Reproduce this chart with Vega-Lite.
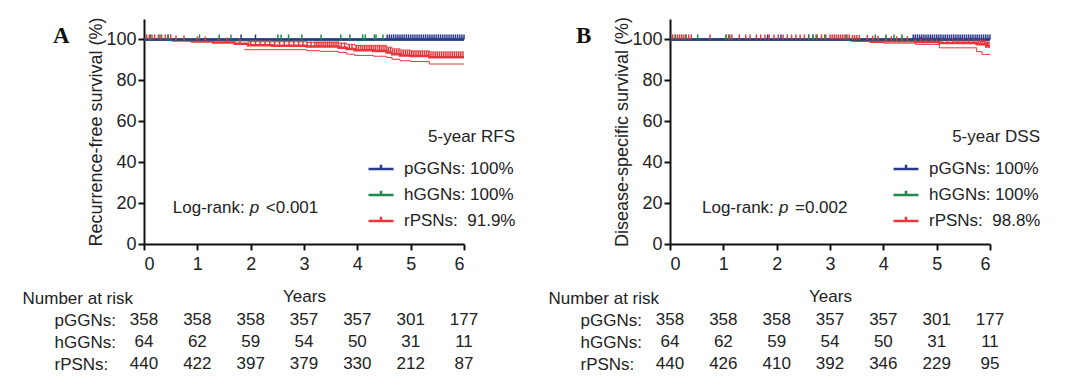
{
  "$schema": "https://vega.github.io/schema/vega-lite/v6.json",
  "background": "white",
  "padding": {"left": 22, "top": 16, "right": 5, "bottom": 5},
  "bounds": "flush",
  "spacing": 526,
  "config": {
    "font": "Liberation Sans",
    "view": {"stroke": null},
    "axis": {"grid": false, "domainColor": "#111", "domainWidth": 2, "tickColor": "#111", "tickWidth": 2, "tickSize": 6, "labelFont": "Liberation Sans", "labelFontSize": 18, "labelColor": "#222", "titleFont": "Liberation Sans", "titleFontWeight": "normal", "titleColor": "#222"},
    "text": {"font": "Liberation Sans", "color": "#222"}
  },
  "resolve": {"legend": {"color": "independent"}},
  "datasets": {
    "lineA": [
      {"g": "rPSNs", "t": 0, "s": 100}, {"g": "rPSNs", "t": 0.55, "s": 99.5}, {"g": "rPSNs", "t": 0.9, "s": 99.0}, {"g": "rPSNs", "t": 1.3, "s": 98.5}, {"g": "rPSNs", "t": 1.7, "s": 97.9}, {"g": "rPSNs", "t": 1.95, "s": 97.2}, {"g": "rPSNs", "t": 2.4, "s": 96.9}, {"g": "rPSNs", "t": 3.05, "s": 96.6}, {"g": "rPSNs", "t": 3.65, "s": 96.0}, {"g": "rPSNs", "t": 3.8, "s": 95.3}, {"g": "rPSNs", "t": 3.95, "s": 94.7}, {"g": "rPSNs", "t": 4.3, "s": 94.4}, {"g": "rPSNs", "t": 4.55, "s": 93.6}, {"g": "rPSNs", "t": 4.65, "s": 92.8}, {"g": "rPSNs", "t": 4.8, "s": 92.2}, {"g": "rPSNs", "t": 5.0, "s": 91.9}, {"g": "rPSNs", "t": 5.35, "s": 91.3}, {"g": "rPSNs", "t": 6.0, "s": 91.3},
      {"g": "hGGNs", "t": 0, "s": 100}, {"g": "hGGNs", "t": 6.0, "s": 100},
      {"g": "pGGNs", "t": 0, "s": 100}, {"g": "pGGNs", "t": 6.0, "s": 100}
    ],
    "ciA": [
      {"b": "hi", "t": 0, "s": 100}, {"b": "hi", "t": 0.6, "s": 99.9}, {"b": "hi", "t": 1.0, "s": 99.6}, {"b": "hi", "t": 1.5, "s": 99.3}, {"b": "hi", "t": 1.95, "s": 98.9}, {"b": "hi", "t": 3.05, "s": 98.6}, {"b": "hi", "t": 3.65, "s": 98.2}, {"b": "hi", "t": 3.8, "s": 97.6}, {"b": "hi", "t": 3.95, "s": 97.1}, {"b": "hi", "t": 4.55, "s": 96.2}, {"b": "hi", "t": 4.65, "s": 95.4}, {"b": "hi", "t": 4.8, "s": 94.8}, {"b": "hi", "t": 5.0, "s": 94.4}, {"b": "hi", "t": 5.35, "s": 93.9}, {"b": "hi", "t": 6.0, "s": 93.9},
      {"b": "lo", "t": 1.88, "s": 95.0}, {"b": "lo", "t": 3.05, "s": 94.5}, {"b": "lo", "t": 3.3, "s": 94.2}, {"b": "lo", "t": 3.65, "s": 93.6}, {"b": "lo", "t": 3.8, "s": 92.8}, {"b": "lo", "t": 3.95, "s": 92.2}, {"b": "lo", "t": 4.3, "s": 91.8}, {"b": "lo", "t": 4.55, "s": 91.2}, {"b": "lo", "t": 4.65, "s": 90.3}, {"b": "lo", "t": 4.8, "s": 89.6}, {"b": "lo", "t": 5.0, "s": 89.2}, {"b": "lo", "t": 5.35, "s": 88.0}, {"b": "lo", "t": 6.0, "s": 88.0}
    ],
    "tickA": [
      {"g": "rPSNs", "t": 0.05, "s": 100}, {"g": "rPSNs", "t": 0.1, "s": 100}, {"g": "rPSNs", "t": 0.15, "s": 100}, {"g": "rPSNs", "t": 0.2, "s": 100}, {"g": "rPSNs", "t": 0.27, "s": 100}, {"g": "rPSNs", "t": 0.33, "s": 100}, {"g": "rPSNs", "t": 0.4, "s": 100}, {"g": "rPSNs", "t": 0.45, "s": 100}, {"g": "rPSNs", "t": 0.5, "s": 100},
      {"g": "rPSNs", "t": 0.6, "s": 99.5}, {"g": "rPSNs", "t": 0.75, "s": 99.5}, {"g": "rPSNs", "t": 1.0, "s": 99.0}, {"g": "rPSNs", "t": 1.15, "s": 99.0}, {"g": "rPSNs", "t": 1.4, "s": 98.5}, {"g": "rPSNs", "t": 1.55, "s": 98.5}, {"g": "rPSNs", "t": 1.8, "s": 97.9},
      {"g": "rPSNs", "t": 2.0, "s": 97.2}, {"g": "rPSNs", "t": 2.09, "s": 97.2}, {"g": "rPSNs", "t": 2.18, "s": 97.2}, {"g": "rPSNs", "t": 2.27, "s": 97.2}, {"g": "rPSNs", "t": 2.36, "s": 97.2},
      {"g": "rPSNs", "t": 2.45, "s": 96.9}, {"g": "rPSNs", "t": 2.54, "s": 96.9}, {"g": "rPSNs", "t": 2.63, "s": 96.9}, {"g": "rPSNs", "t": 2.72, "s": 96.9}, {"g": "rPSNs", "t": 2.81, "s": 96.9}, {"g": "rPSNs", "t": 2.9, "s": 96.9}, {"g": "rPSNs", "t": 2.98, "s": 96.9},
      {"g": "rPSNs", "t": 3.06, "s": 96.6}, {"g": "rPSNs", "t": 3.13, "s": 96.6}, {"g": "rPSNs", "t": 3.2, "s": 96.6}, {"g": "rPSNs", "t": 3.24, "s": 96.6}, {"g": "rPSNs", "t": 3.28, "s": 96.6}, {"g": "rPSNs", "t": 3.32, "s": 96.6}, {"g": "rPSNs", "t": 3.36, "s": 96.6}, {"g": "rPSNs", "t": 3.4, "s": 96.6}, {"g": "rPSNs", "t": 3.44, "s": 96.6}, {"g": "rPSNs", "t": 3.48, "s": 96.6}, {"g": "rPSNs", "t": 3.52, "s": 96.6}, {"g": "rPSNs", "t": 3.56, "s": 96.6}, {"g": "rPSNs", "t": 3.6, "s": 96.6}, {"g": "rPSNs", "t": 3.64, "s": 96.6},
      {"g": "rPSNs", "t": 3.7, "s": 96.0}, {"g": "rPSNs", "t": 3.76, "s": 96.0}, {"g": "rPSNs", "t": 3.85, "s": 95.3}, {"g": "rPSNs", "t": 3.9, "s": 95.3},
      {"g": "rPSNs", "t": 3.98, "s": 94.7}, {"g": "rPSNs", "t": 4.02, "s": 94.7}, {"g": "rPSNs", "t": 4.06, "s": 94.7}, {"g": "rPSNs", "t": 4.1, "s": 94.7}, {"g": "rPSNs", "t": 4.14, "s": 94.7}, {"g": "rPSNs", "t": 4.18, "s": 94.7}, {"g": "rPSNs", "t": 4.22, "s": 94.7}, {"g": "rPSNs", "t": 4.26, "s": 94.7},
      {"g": "rPSNs", "t": 4.3, "s": 94.4}, {"g": "rPSNs", "t": 4.34, "s": 94.4}, {"g": "rPSNs", "t": 4.38, "s": 94.4}, {"g": "rPSNs", "t": 4.42, "s": 94.4}, {"g": "rPSNs", "t": 4.46, "s": 94.4}, {"g": "rPSNs", "t": 4.5, "s": 94.4}, {"g": "rPSNs", "t": 4.54, "s": 94.4},
      {"g": "rPSNs", "t": 4.58, "s": 93.6}, {"g": "rPSNs", "t": 4.62, "s": 93.6}, {"g": "rPSNs", "t": 4.66, "s": 92.8}, {"g": "rPSNs", "t": 4.7, "s": 92.8}, {"g": "rPSNs", "t": 4.74, "s": 92.8}, {"g": "rPSNs", "t": 4.78, "s": 92.8},
      {"g": "rPSNs", "t": 4.82, "s": 92.2}, {"g": "rPSNs", "t": 4.86, "s": 92.2}, {"g": "rPSNs", "t": 4.9, "s": 92.2}, {"g": "rPSNs", "t": 4.94, "s": 92.2}, {"g": "rPSNs", "t": 4.98, "s": 92.2},
      {"g": "rPSNs", "t": 5.02, "s": 91.9}, {"g": "rPSNs", "t": 5.06, "s": 91.9}, {"g": "rPSNs", "t": 5.1, "s": 91.9}, {"g": "rPSNs", "t": 5.14, "s": 91.9}, {"g": "rPSNs", "t": 5.18, "s": 91.9}, {"g": "rPSNs", "t": 5.22, "s": 91.9}, {"g": "rPSNs", "t": 5.26, "s": 91.9}, {"g": "rPSNs", "t": 5.3, "s": 91.9}, {"g": "rPSNs", "t": 5.34, "s": 91.9},
      {"g": "rPSNs", "t": 5.38, "s": 91.3}, {"g": "rPSNs", "t": 5.42, "s": 91.3}, {"g": "rPSNs", "t": 5.46, "s": 91.3}, {"g": "rPSNs", "t": 5.5, "s": 91.3}, {"g": "rPSNs", "t": 5.54, "s": 91.3}, {"g": "rPSNs", "t": 5.58, "s": 91.3}, {"g": "rPSNs", "t": 5.62, "s": 91.3}, {"g": "rPSNs", "t": 5.66, "s": 91.3}, {"g": "rPSNs", "t": 5.7, "s": 91.3}, {"g": "rPSNs", "t": 5.74, "s": 91.3}, {"g": "rPSNs", "t": 5.78, "s": 91.3}, {"g": "rPSNs", "t": 5.82, "s": 91.3}, {"g": "rPSNs", "t": 5.86, "s": 91.3}, {"g": "rPSNs", "t": 5.9, "s": 91.3}, {"g": "rPSNs", "t": 5.94, "s": 91.3}, {"g": "rPSNs", "t": 5.98, "s": 91.3},
      {"g": "hGGNs", "t": 0.12, "s": 100}, {"g": "hGGNs", "t": 0.3, "s": 100}, {"g": "hGGNs", "t": 0.45, "s": 100}, {"g": "hGGNs", "t": 1.04, "s": 100}, {"g": "hGGNs", "t": 1.41, "s": 100}, {"g": "hGGNs", "t": 1.63, "s": 100}, {"g": "hGGNs", "t": 2.51, "s": 100}, {"g": "hGGNs", "t": 2.57, "s": 100}, {"g": "hGGNs", "t": 2.71, "s": 100}, {"g": "hGGNs", "t": 2.96, "s": 100}, {"g": "hGGNs", "t": 3.32, "s": 100}, {"g": "hGGNs", "t": 3.69, "s": 100}, {"g": "hGGNs", "t": 3.86, "s": 100}, {"g": "hGGNs", "t": 4.1, "s": 100}, {"g": "hGGNs", "t": 4.15, "s": 100}, {"g": "hGGNs", "t": 4.32, "s": 100}, {"g": "hGGNs", "t": 4.35, "s": 100}, {"g": "hGGNs", "t": 4.48, "s": 100},
      {"g": "pGGNs", "t": 1.82, "s": 100}, {"g": "pGGNs", "t": 2.09, "s": 100},
      {"g": "pGGNs", "t": 4.56, "s": 100}, {"g": "pGGNs", "t": 4.6, "s": 100}, {"g": "pGGNs", "t": 4.64, "s": 100}, {"g": "pGGNs", "t": 4.68, "s": 100}, {"g": "pGGNs", "t": 4.72, "s": 100}, {"g": "pGGNs", "t": 4.76, "s": 100}, {"g": "pGGNs", "t": 4.8, "s": 100}, {"g": "pGGNs", "t": 4.84, "s": 100}, {"g": "pGGNs", "t": 4.88, "s": 100}, {"g": "pGGNs", "t": 4.92, "s": 100}, {"g": "pGGNs", "t": 4.96, "s": 100}, {"g": "pGGNs", "t": 5.0, "s": 100}, {"g": "pGGNs", "t": 5.04, "s": 100}, {"g": "pGGNs", "t": 5.08, "s": 100}, {"g": "pGGNs", "t": 5.12, "s": 100}, {"g": "pGGNs", "t": 5.16, "s": 100}, {"g": "pGGNs", "t": 5.2, "s": 100}, {"g": "pGGNs", "t": 5.24, "s": 100}, {"g": "pGGNs", "t": 5.28, "s": 100}, {"g": "pGGNs", "t": 5.32, "s": 100}, {"g": "pGGNs", "t": 5.36, "s": 100}, {"g": "pGGNs", "t": 5.4, "s": 100}, {"g": "pGGNs", "t": 5.44, "s": 100}, {"g": "pGGNs", "t": 5.48, "s": 100}, {"g": "pGGNs", "t": 5.52, "s": 100}, {"g": "pGGNs", "t": 5.56, "s": 100}, {"g": "pGGNs", "t": 5.6, "s": 100}, {"g": "pGGNs", "t": 5.64, "s": 100}, {"g": "pGGNs", "t": 5.68, "s": 100}, {"g": "pGGNs", "t": 5.72, "s": 100}, {"g": "pGGNs", "t": 5.76, "s": 100}, {"g": "pGGNs", "t": 5.8, "s": 100}, {"g": "pGGNs", "t": 5.84, "s": 100}, {"g": "pGGNs", "t": 5.88, "s": 100}, {"g": "pGGNs", "t": 5.92, "s": 100}, {"g": "pGGNs", "t": 5.96, "s": 100}, {"g": "pGGNs", "t": 6.0, "s": 100}
    ],
    "tabA": [
      {"g": "pGGNs", "t": 0, "n": "358"}, {"g": "pGGNs", "t": 1, "n": "358"}, {"g": "pGGNs", "t": 2, "n": "358"}, {"g": "pGGNs", "t": 3, "n": "357"}, {"g": "pGGNs", "t": 4, "n": "357"}, {"g": "pGGNs", "t": 5, "n": "301"}, {"g": "pGGNs", "t": 6, "n": "177"},
      {"g": "hGGNs", "t": 0, "n": "64"}, {"g": "hGGNs", "t": 1, "n": "62"}, {"g": "hGGNs", "t": 2, "n": "59"}, {"g": "hGGNs", "t": 3, "n": "54"}, {"g": "hGGNs", "t": 4, "n": "50"}, {"g": "hGGNs", "t": 5, "n": "31"}, {"g": "hGGNs", "t": 6, "n": "11"},
      {"g": "rPSNs", "t": 0, "n": "440"}, {"g": "rPSNs", "t": 1, "n": "422"}, {"g": "rPSNs", "t": 2, "n": "397"}, {"g": "rPSNs", "t": 3, "n": "379"}, {"g": "rPSNs", "t": 4, "n": "330"}, {"g": "rPSNs", "t": 5, "n": "212"}, {"g": "rPSNs", "t": 6, "n": "87"}
    ],
    "lineB": [
      {"g": "rPSNs", "t": 0, "s": 100}, {"g": "rPSNs", "t": 3.4, "s": 99.7}, {"g": "rPSNs", "t": 3.75, "s": 99.4}, {"g": "rPSNs", "t": 4.0, "s": 99.1}, {"g": "rPSNs", "t": 4.6, "s": 98.8}, {"g": "rPSNs", "t": 5.05, "s": 98.3}, {"g": "rPSNs", "t": 5.75, "s": 97.6}, {"g": "rPSNs", "t": 5.93, "s": 96.6}, {"g": "rPSNs", "t": 6.0, "s": 96.6},
      {"g": "hGGNs", "t": 0, "s": 100}, {"g": "hGGNs", "t": 6.0, "s": 100},
      {"g": "pGGNs", "t": 0, "s": 100}, {"g": "pGGNs", "t": 6.0, "s": 100}
    ],
    "ciB": [
      {"b": "hi", "t": 0, "s": 100}, {"b": "hi", "t": 3.75, "s": 99.9}, {"b": "hi", "t": 4.6, "s": 99.6}, {"b": "hi", "t": 5.3, "s": 99.3}, {"b": "hi", "t": 5.8, "s": 99.0}, {"b": "hi", "t": 5.93, "s": 98.5}, {"b": "hi", "t": 6.0, "s": 98.5},
      {"b": "lo", "t": 3.4, "s": 99.0}, {"b": "lo", "t": 3.75, "s": 98.5}, {"b": "lo", "t": 4.0, "s": 98.2}, {"b": "lo", "t": 4.6, "s": 97.6}, {"b": "lo", "t": 5.05, "s": 95.9}, {"b": "lo", "t": 5.75, "s": 94.0}, {"b": "lo", "t": 5.85, "s": 92.7}, {"b": "lo", "t": 6.0, "s": 92.7}
    ],
    "tickB": [
      {"g": "rPSNs", "t": 0.05, "s": 100}, {"g": "rPSNs", "t": 0.1, "s": 100}, {"g": "rPSNs", "t": 0.14, "s": 100}, {"g": "rPSNs", "t": 0.18, "s": 100}, {"g": "rPSNs", "t": 0.22, "s": 100}, {"g": "rPSNs", "t": 0.26, "s": 100}, {"g": "rPSNs", "t": 0.3, "s": 100}, {"g": "rPSNs", "t": 0.35, "s": 100}, {"g": "rPSNs", "t": 0.4, "s": 100}, {"g": "rPSNs", "t": 0.75, "s": 100},
      {"g": "rPSNs", "t": 1.05, "s": 100}, {"g": "rPSNs", "t": 1.1, "s": 100}, {"g": "rPSNs", "t": 1.16, "s": 100}, {"g": "rPSNs", "t": 1.3, "s": 100}, {"g": "rPSNs", "t": 1.42, "s": 100}, {"g": "rPSNs", "t": 1.5, "s": 100}, {"g": "rPSNs", "t": 1.62, "s": 100}, {"g": "rPSNs", "t": 1.7, "s": 100}, {"g": "rPSNs", "t": 1.78, "s": 100}, {"g": "rPSNs", "t": 1.86, "s": 100}, {"g": "rPSNs", "t": 1.95, "s": 100}, {"g": "rPSNs", "t": 2.03, "s": 100}, {"g": "rPSNs", "t": 2.12, "s": 100}, {"g": "rPSNs", "t": 2.2, "s": 100}, {"g": "rPSNs", "t": 2.28, "s": 100}, {"g": "rPSNs", "t": 2.36, "s": 100}, {"g": "rPSNs", "t": 2.44, "s": 100}, {"g": "rPSNs", "t": 2.52, "s": 100}, {"g": "rPSNs", "t": 2.6, "s": 100}, {"g": "rPSNs", "t": 2.68, "s": 100}, {"g": "rPSNs", "t": 2.76, "s": 100}, {"g": "rPSNs", "t": 2.84, "s": 100}, {"g": "rPSNs", "t": 2.92, "s": 100}, {"g": "rPSNs", "t": 3.0, "s": 100}, {"g": "rPSNs", "t": 3.04, "s": 100}, {"g": "rPSNs", "t": 3.08, "s": 100}, {"g": "rPSNs", "t": 3.12, "s": 100}, {"g": "rPSNs", "t": 3.16, "s": 100}, {"g": "rPSNs", "t": 3.2, "s": 100}, {"g": "rPSNs", "t": 3.24, "s": 100}, {"g": "rPSNs", "t": 3.28, "s": 100}, {"g": "rPSNs", "t": 3.32, "s": 100}, {"g": "rPSNs", "t": 3.36, "s": 100},
      {"g": "rPSNs", "t": 3.42, "s": 99.7}, {"g": "rPSNs", "t": 3.46, "s": 99.7}, {"g": "rPSNs", "t": 3.5, "s": 99.7}, {"g": "rPSNs", "t": 3.55, "s": 99.7}, {"g": "rPSNs", "t": 3.7, "s": 99.7}, {"g": "rPSNs", "t": 3.8, "s": 99.4}, {"g": "rPSNs", "t": 3.9, "s": 99.4},
      {"g": "rPSNs", "t": 4.05, "s": 99.1}, {"g": "rPSNs", "t": 4.15, "s": 99.1}, {"g": "rPSNs", "t": 4.25, "s": 99.1}, {"g": "rPSNs", "t": 4.35, "s": 99.1}, {"g": "rPSNs", "t": 4.45, "s": 99.1},
      {"g": "rPSNs", "t": 4.6, "s": 98.8}, {"g": "rPSNs", "t": 4.7, "s": 98.8}, {"g": "rPSNs", "t": 4.8, "s": 98.8}, {"g": "rPSNs", "t": 4.9, "s": 98.8}, {"g": "rPSNs", "t": 5.0, "s": 98.8},
      {"g": "rPSNs", "t": 5.1, "s": 98.3}, {"g": "rPSNs", "t": 5.2, "s": 98.3}, {"g": "rPSNs", "t": 5.3, "s": 98.3}, {"g": "rPSNs", "t": 5.4, "s": 98.3}, {"g": "rPSNs", "t": 5.5, "s": 98.3}, {"g": "rPSNs", "t": 5.6, "s": 98.3}, {"g": "rPSNs", "t": 5.7, "s": 98.3},
      {"g": "rPSNs", "t": 5.78, "s": 97.6}, {"g": "rPSNs", "t": 5.82, "s": 97.6}, {"g": "rPSNs", "t": 5.86, "s": 97.6}, {"g": "rPSNs", "t": 5.9, "s": 97.6}, {"g": "rPSNs", "t": 5.95, "s": 96.6}, {"g": "rPSNs", "t": 5.98, "s": 96.6},
      {"g": "hGGNs", "t": 0.1, "s": 100}, {"g": "hGGNs", "t": 0.3, "s": 100}, {"g": "hGGNs", "t": 0.52, "s": 100}, {"g": "hGGNs", "t": 1.05, "s": 100}, {"g": "hGGNs", "t": 1.12, "s": 100}, {"g": "hGGNs", "t": 2.6, "s": 100}, {"g": "hGGNs", "t": 2.68, "s": 100}, {"g": "hGGNs", "t": 2.74, "s": 100}, {"g": "hGGNs", "t": 2.9, "s": 100}, {"g": "hGGNs", "t": 3.3, "s": 100}, {"g": "hGGNs", "t": 3.85, "s": 100}, {"g": "hGGNs", "t": 4.05, "s": 100}, {"g": "hGGNs", "t": 4.2, "s": 100}, {"g": "hGGNs", "t": 4.35, "s": 100},
      {"g": "pGGNs", "t": 1.83, "s": 100}, {"g": "pGGNs", "t": 2.08, "s": 100},
      {"g": "pGGNs", "t": 4.56, "s": 100}, {"g": "pGGNs", "t": 4.6, "s": 100}, {"g": "pGGNs", "t": 4.64, "s": 100}, {"g": "pGGNs", "t": 4.68, "s": 100}, {"g": "pGGNs", "t": 4.72, "s": 100}, {"g": "pGGNs", "t": 4.76, "s": 100}, {"g": "pGGNs", "t": 4.8, "s": 100}, {"g": "pGGNs", "t": 4.84, "s": 100}, {"g": "pGGNs", "t": 4.88, "s": 100}, {"g": "pGGNs", "t": 4.92, "s": 100}, {"g": "pGGNs", "t": 4.96, "s": 100}, {"g": "pGGNs", "t": 5.0, "s": 100}, {"g": "pGGNs", "t": 5.04, "s": 100}, {"g": "pGGNs", "t": 5.08, "s": 100}, {"g": "pGGNs", "t": 5.12, "s": 100}, {"g": "pGGNs", "t": 5.16, "s": 100}, {"g": "pGGNs", "t": 5.2, "s": 100}, {"g": "pGGNs", "t": 5.24, "s": 100}, {"g": "pGGNs", "t": 5.28, "s": 100}, {"g": "pGGNs", "t": 5.32, "s": 100}, {"g": "pGGNs", "t": 5.36, "s": 100}, {"g": "pGGNs", "t": 5.4, "s": 100}, {"g": "pGGNs", "t": 5.44, "s": 100}, {"g": "pGGNs", "t": 5.48, "s": 100}, {"g": "pGGNs", "t": 5.52, "s": 100}, {"g": "pGGNs", "t": 5.56, "s": 100}, {"g": "pGGNs", "t": 5.6, "s": 100}, {"g": "pGGNs", "t": 5.64, "s": 100}, {"g": "pGGNs", "t": 5.68, "s": 100}, {"g": "pGGNs", "t": 5.72, "s": 100}, {"g": "pGGNs", "t": 5.76, "s": 100}, {"g": "pGGNs", "t": 5.8, "s": 100}, {"g": "pGGNs", "t": 5.84, "s": 100}, {"g": "pGGNs", "t": 5.88, "s": 100}, {"g": "pGGNs", "t": 5.92, "s": 100}, {"g": "pGGNs", "t": 5.96, "s": 100}, {"g": "pGGNs", "t": 6.0, "s": 100}
    ],
    "tabB": [
      {"g": "pGGNs", "t": 0, "n": "358"}, {"g": "pGGNs", "t": 1, "n": "358"}, {"g": "pGGNs", "t": 2, "n": "358"}, {"g": "pGGNs", "t": 3, "n": "357"}, {"g": "pGGNs", "t": 4, "n": "357"}, {"g": "pGGNs", "t": 5, "n": "301"}, {"g": "pGGNs", "t": 6, "n": "177"},
      {"g": "hGGNs", "t": 0, "n": "64"}, {"g": "hGGNs", "t": 1, "n": "62"}, {"g": "hGGNs", "t": 2, "n": "59"}, {"g": "hGGNs", "t": 3, "n": "54"}, {"g": "hGGNs", "t": 4, "n": "50"}, {"g": "hGGNs", "t": 5, "n": "31"}, {"g": "hGGNs", "t": 6, "n": "11"},
      {"g": "rPSNs", "t": 0, "n": "440"}, {"g": "rPSNs", "t": 1, "n": "426"}, {"g": "rPSNs", "t": 2, "n": "410"}, {"g": "rPSNs", "t": 3, "n": "392"}, {"g": "rPSNs", "t": 4, "n": "346"}, {"g": "rPSNs", "t": 5, "n": "229"}, {"g": "rPSNs", "t": 6, "n": "95"}
    ]
  },
  "hconcat": [
    {
      "bounds": "flush",
      "spacing": 65,
      "resolve": {"legend": {"color": "independent"}},
      "vconcat": [
        {
          "width": 320,
          "height": 225,
          "layer": [
            {
              "data": {"name": "ciA"},
              "mark": {"type": "line", "interpolate": "step-after", "color": "#e5373c", "strokeWidth": 1},
              "encoding": {
                "x": {"field": "t", "type": "quantitative", "scale": {"domain": [0, 6], "nice": false}, "axis": {"values": [0, 1, 2, 3, 4, 5, 6], "title": "Years", "titleFontSize": 17, "labelPadding": 5, "titlePadding": 15}},
                "y": {"field": "s", "type": "quantitative", "scale": {"domain": [0, 110], "nice": false}, "axis": {"values": [0, 20, 40, 60, 80, 100], "title": "Recurrence-free survival (%)", "titleFontSize": 18, "labelPadding": 2, "titlePadding": 0}},
                "detail": {"field": "b"}
              }
            },
            {
              "data": {"name": "lineA"},
              "mark": {"type": "line", "interpolate": "step-after", "strokeWidth": 2.5},
              "encoding": {
                "x": {"field": "t", "type": "quantitative", "axis": {"values": [0, 1, 2, 3, 4, 5, 6], "title": "Years", "titleFontSize": 17, "labelPadding": 5, "titlePadding": 15}},
                "y": {"field": "s", "type": "quantitative", "axis": {"values": [0, 20, 40, 60, 80, 100], "title": "Recurrence-free survival (%)", "titleFontSize": 18, "labelPadding": 2, "titlePadding": 0}},
                "color": {"field": "g", "type": "nominal", "scale": {"domain": ["pGGNs", "hGGNs", "rPSNs"], "range": ["#2b3a8f", "#1e8b4e", "#e5373c"]},
                  "legend": {"orient": "none", "legendX": 223, "legendY": 110, "title": "5-year RFS", "titleAlign": "right", "titleAnchor": "end", "titleFont": "Liberation Sans", "titleFontSize": 17, "titleFontWeight": "normal", "titleColor": "#222", "titlePadding": 9, "labelFont": "Liberation Sans", "labelFontSize": 17, "labelColor": "#222", "labelOffset": 9, "symbolType": "M-1,0H1M0,0V-0.35", "symbolSize": 625, "symbolStrokeWidth": 2.5, "rowPadding": 4,
                    "labelExpr": "datum.label == 'pGGNs' ? 'pGGNs: 100%' : datum.label == 'hGGNs' ? 'hGGNs: 100%' : 'rPSNs:\u00a0 91.9%'"}}
              }
            },
            {
              "data": {"name": "tickA"},
              "mark": {"type": "tick", "orient": "vertical", "thickness": 1.5, "size": 5, "yOffset": -2.5, "opacity": 1},
              "encoding": {
                "x": {"field": "t", "type": "quantitative", "axis": {"values": [0, 1, 2, 3, 4, 5, 6], "title": "Years", "titleFontSize": 17, "labelPadding": 5, "titlePadding": 15}},
                "y": {"field": "s", "type": "quantitative", "axis": {"values": [0, 20, 40, 60, 80, 100], "title": "Recurrence-free survival (%)", "titleFontSize": 18, "labelPadding": 2, "titlePadding": 0}},
                "fill": {"field": "g", "type": "nominal", "scale": {"domain": ["pGGNs", "hGGNs", "rPSNs"], "range": ["#2b3a8f", "#1e8b4e", "#e5373c"]}, "legend": null}
              }
            },
            {
              "data": {"values": [{"txt": "Log-rank:"}]},
              "mark": {"type": "text", "align": "left", "baseline": "middle", "fontSize": 17},
              "encoding": {"x": {"datum": 0.54, "type": "quantitative"}, "y": {"datum": 17.5, "type": "quantitative"}, "text": {"field": "txt"}}
            },
            {
              "data": {"values": [{"txt": "p"}]},
              "mark": {"type": "text", "align": "left", "baseline": "middle", "fontSize": 17, "fontStyle": "italic", "dx": 77},
              "encoding": {"x": {"datum": 0.54, "type": "quantitative"}, "y": {"datum": 17.5, "type": "quantitative"}, "text": {"field": "txt"}}
            },
            {
              "data": {"values": [{"txt": "<0.001"}]},
              "mark": {"type": "text", "align": "left", "baseline": "middle", "fontSize": 17, "dx": 93},
              "encoding": {"x": {"datum": 0.54, "type": "quantitative"}, "y": {"datum": 17.5, "type": "quantitative"}, "text": {"field": "txt"}}
            },
            {
              "data": {"values": [{"txt": "A"}]},
              "mark": {"type": "text", "align": "center", "baseline": "middle", "font": "Liberation Serif", "fontWeight": "bold", "fontSize": 23, "color": "#111"},
              "encoding": {"x": {"datum": -1.55, "type": "quantitative"}, "y": {"datum": 101.5, "type": "quantitative"}, "text": {"field": "txt"}}
            }
          ]
        },
        {
          "width": 320,
          "height": 66,
          "data": {"name": "tabA"},
          "mark": {"type": "text", "fontSize": 17, "color": "#222"},
          "encoding": {
            "x": {"field": "t", "type": "quantitative", "scale": {"domain": [0, 6], "nice": false}, "axis": null},
            "y": {"field": "g", "type": "nominal", "sort": ["pGGNs", "hGGNs", "rPSNs"], "scale": {"type": "point", "padding": 0.5},
              "axis": {"domain": false, "ticks": false, "tickSize": 0, "labelAlign": "left", "labelPadding": 90, "labelFontSize": 17, "labelExpr": "datum.label + ':'", "title": "Number at risk", "titleAngle": 0, "titleAlign": "left", "titleBaseline": "middle", "titleX": -122, "titleY": -11, "titleFontSize": 17}},
            "text": {"field": "n", "type": "nominal"}
          }
        }
      ]
    },
    {
      "bounds": "flush",
      "spacing": 65,
      "resolve": {"legend": {"color": "independent"}},
      "vconcat": [
        {
          "width": 320,
          "height": 225,
          "layer": [
            {
              "data": {"name": "ciB"},
              "mark": {"type": "line", "interpolate": "step-after", "color": "#e5373c", "strokeWidth": 1},
              "encoding": {
                "x": {"field": "t", "type": "quantitative", "scale": {"domain": [0, 6], "nice": false}, "axis": {"values": [0, 1, 2, 3, 4, 5, 6], "title": "Years", "titleFontSize": 17, "labelPadding": 5, "titlePadding": 15}},
                "y": {"field": "s", "type": "quantitative", "scale": {"domain": [0, 110], "nice": false}, "axis": {"values": [0, 20, 40, 60, 80, 100], "title": "Disease-specific survival (%)", "titleFontSize": 18, "labelPadding": 2, "titlePadding": 0}},
                "detail": {"field": "b"}
              }
            },
            {
              "data": {"name": "lineB"},
              "mark": {"type": "line", "interpolate": "step-after", "strokeWidth": 2.5},
              "encoding": {
                "x": {"field": "t", "type": "quantitative", "axis": {"values": [0, 1, 2, 3, 4, 5, 6], "title": "Years", "titleFontSize": 17, "labelPadding": 5, "titlePadding": 15}},
                "y": {"field": "s", "type": "quantitative", "axis": {"values": [0, 20, 40, 60, 80, 100], "title": "Disease-specific survival (%)", "titleFontSize": 18, "labelPadding": 2, "titlePadding": 0}},
                "color": {"field": "g", "type": "nominal", "scale": {"domain": ["pGGNs", "hGGNs", "rPSNs"], "range": ["#2b3a8f", "#1e8b4e", "#e5373c"]},
                  "legend": {"orient": "none", "legendX": 222, "legendY": 110, "title": "5-year DSS", "titleAlign": "right", "titleAnchor": "end", "titleFont": "Liberation Sans", "titleFontSize": 17, "titleFontWeight": "normal", "titleColor": "#222", "titlePadding": 9, "labelFont": "Liberation Sans", "labelFontSize": 17, "labelColor": "#222", "labelOffset": 9, "symbolType": "M-1,0H1M0,0V-0.35", "symbolSize": 625, "symbolStrokeWidth": 2.5, "rowPadding": 4,
                    "labelExpr": "datum.label == 'pGGNs' ? 'pGGNs: 100%' : datum.label == 'hGGNs' ? 'hGGNs: 100%' : 'rPSNs:\u00a0 98.8%'"}}
              }
            },
            {
              "data": {"name": "tickB"},
              "mark": {"type": "tick", "orient": "vertical", "thickness": 1.5, "size": 5, "yOffset": -2.5, "opacity": 1},
              "encoding": {
                "x": {"field": "t", "type": "quantitative", "axis": {"values": [0, 1, 2, 3, 4, 5, 6], "title": "Years", "titleFontSize": 17, "labelPadding": 5, "titlePadding": 15}},
                "y": {"field": "s", "type": "quantitative", "axis": {"values": [0, 20, 40, 60, 80, 100], "title": "Disease-specific survival (%)", "titleFontSize": 18, "labelPadding": 2, "titlePadding": 0}},
                "fill": {"field": "g", "type": "nominal", "scale": {"domain": ["pGGNs", "hGGNs", "rPSNs"], "range": ["#2b3a8f", "#1e8b4e", "#e5373c"]}, "legend": null}
              }
            },
            {
              "data": {"values": [{"txt": "Log-rank:"}]},
              "mark": {"type": "text", "align": "left", "baseline": "middle", "fontSize": 17},
              "encoding": {"x": {"datum": 0.6, "type": "quantitative"}, "y": {"datum": 17.5, "type": "quantitative"}, "text": {"field": "txt"}}
            },
            {
              "data": {"values": [{"txt": "p"}]},
              "mark": {"type": "text", "align": "left", "baseline": "middle", "fontSize": 17, "fontStyle": "italic", "dx": 77},
              "encoding": {"x": {"datum": 0.6, "type": "quantitative"}, "y": {"datum": 17.5, "type": "quantitative"}, "text": {"field": "txt"}}
            },
            {
              "data": {"values": [{"txt": "=0.002"}]},
              "mark": {"type": "text", "align": "left", "baseline": "middle", "fontSize": 17, "dx": 93},
              "encoding": {"x": {"datum": 0.6, "type": "quantitative"}, "y": {"datum": 17.5, "type": "quantitative"}, "text": {"field": "txt"}}
            },
            {
              "data": {"values": [{"txt": "B"}]},
              "mark": {"type": "text", "align": "center", "baseline": "middle", "font": "Liberation Serif", "fontWeight": "bold", "fontSize": 23, "color": "#111"},
              "encoding": {"x": {"datum": -1.62, "type": "quantitative"}, "y": {"datum": 101.5, "type": "quantitative"}, "text": {"field": "txt"}}
            }
          ]
        },
        {
          "width": 320,
          "height": 66,
          "data": {"name": "tabB"},
          "mark": {"type": "text", "fontSize": 17, "color": "#222"},
          "encoding": {
            "x": {"field": "t", "type": "quantitative", "scale": {"domain": [0, 6], "nice": false}, "axis": null},
            "y": {"field": "g", "type": "nominal", "sort": ["pGGNs", "hGGNs", "rPSNs"], "scale": {"type": "point", "padding": 0.5},
              "axis": {"domain": false, "ticks": false, "tickSize": 0, "labelAlign": "left", "labelPadding": 90, "labelFontSize": 17, "labelExpr": "datum.label + ':'", "title": "Number at risk", "titleAngle": 0, "titleAlign": "left", "titleBaseline": "middle", "titleX": -122, "titleY": -11, "titleFontSize": 17}},
            "text": {"field": "n", "type": "nominal"}
          }
        }
      ]
    }
  ]
}
